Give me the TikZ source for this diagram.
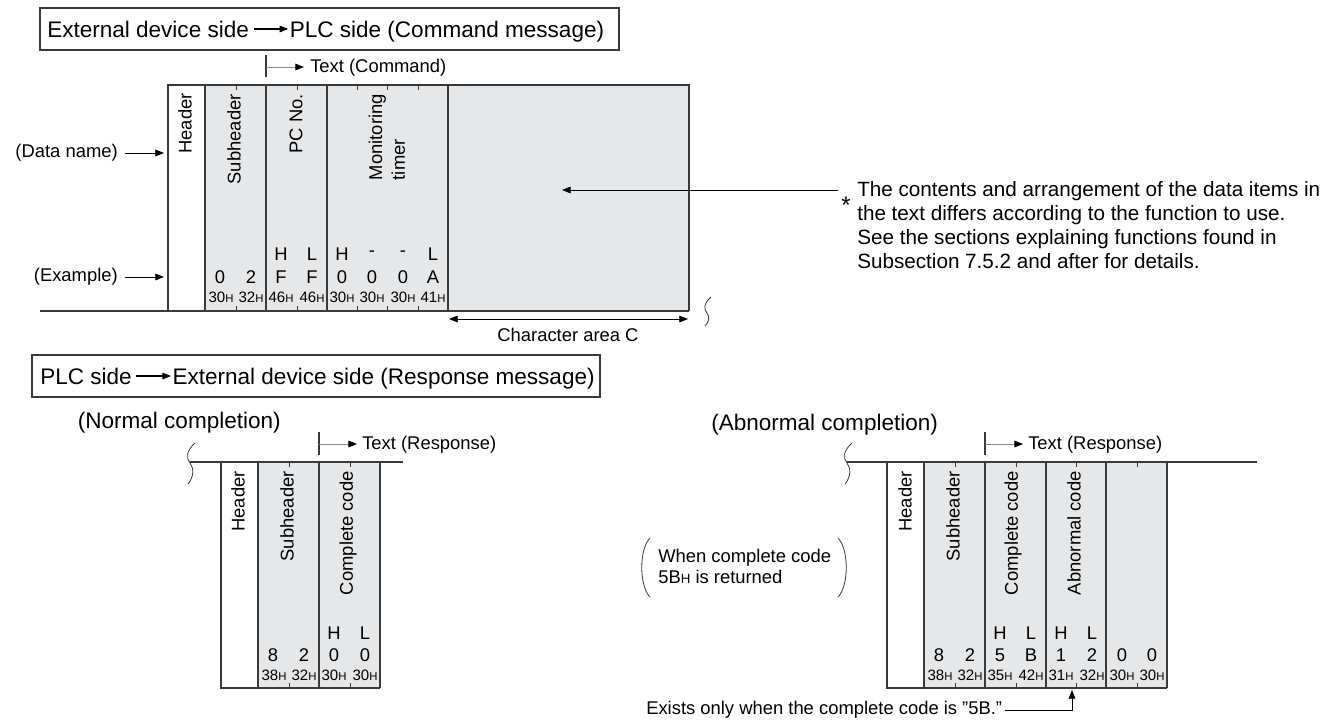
\documentclass[tikz,border=0pt]{standalone}
\usepackage{fontspec}
\usepackage{graphicx}
\setmainfont{Liberation Sans}
\usetikzlibrary{arrows.meta}
\definecolor{cellgray}{HTML}{E6E7E8}
\definecolor{linegray}{HTML}{3A3A3A}
\definecolor{stemgray}{HTML}{8A8A8A}
\newcommand{\hexv}[1]{{\fontsize{11.3}{12}\selectfont #1\fontsize{8.5}{9}\selectfont H}}
\begin{document}
\begin{tikzpicture}[x=0.75pt,y=-0.75pt,
  lbl/.style={inner sep=0pt, font=\fontsize{13.8}{16.5}\selectfont},
  ttl/.style={inner sep=0pt, font=\fontsize{16.9}{20}\selectfont},
  note/.style={inner sep=0pt, font=\fontsize{15.5}{18}\selectfont, align=left},
  vtxt/.style={rotate=90, anchor=east, inner sep=0pt, font=\fontsize{13.8}{17}\selectfont, align=left},
  hexl/.style={inner sep=0pt},
  frame/.style={draw=linegray, line width=0.9pt},
  tick/.style={draw=linegray, line width=0.6pt},
  arr/.style={-{Triangle[length=6.5pt,width=5pt]}, line width=0.6pt, draw=black},
  garr/.style={-{Triangle[length=6.5pt,width=5pt,color=black]}, line width=0.7pt, draw=stemgray},
  darr/.style={{Triangle[length=6.5pt,width=5pt]}-{Triangle[length=6.5pt,width=5pt]}, line width=0.6pt},
  wave/.style={draw=linegray, line width=0.6pt},
]
\useasboundingbox (0,0) rectangle (1332,719);
\fill[white] (0,0) rectangle (1332,719);

% ---------- Title 1 ----------
\draw[frame] (40,8) rectangle (619,50);
\node[ttl, anchor=base west] (t1a) at (47,37) {External device side};
\path (t1a.base east) ++(5,-8) coordinate (t1s) ++(34,0) coordinate (t1e);
\draw[arr, line width=0.8pt] (t1s) -- (t1e);
\node[ttl, anchor=base west] (t1b) at ([xshift=1pt,yshift=-6pt]t1e) {PLC side (Command message)};

% ---------- Text (Command) ----------
\coordinate (tcT) at (266,55);
\coordinate (tcB) at (266,77);
\draw[tick, line width=0.8pt] (tcT) -- (tcB);
\coordinate (tcS) at (266,67);
\coordinate (tcE) at (304,67);
\draw[garr] (tcS) -- (tcE);
\node[lbl, anchor=west] (tcmd) at (310,68) {Text (Command)};

% ---------- Top frame ----------
\fill[cellgray] (205,85) rectangle (689,311);
\draw[frame] (168,311) -- (168,85) -- (689,85) -- (689,311);
\draw[frame] (40,311) -- (689,311);
\foreach \x in {205,266,327,448} \draw[frame] (\x,85) -- (\x,311);
\foreach \x in {236,297,357,387,418} {\draw[tick] (\x,85) -- (\x,90); \draw[tick] (\x,306) -- (\x,311);}
\draw[wave] (711,297) .. controls (703,304) and (704,310) .. (707,313) .. controls (710,317) and (709,322) .. (705,326);

\node[vtxt] (hd1) at (185,93) {Header};
\node[vtxt] (sh1) at (234,94) {Subheader};
\node[vtxt] (pc1) at (296,94) {PC No.};
\node[vtxt] (mt1) at (387,94) {Monitoring\\timer};

\foreach \x/\t [count=\i] in {281/H,312/L,342/H,372/-,403/-,433/L}
  \node[lbl] (th\i) at (\x,254) {\t};
\foreach \x/\t [count=\i] in {220/0,251/2,281/F,312/F,342/0,372/0,403/0,433/A}
  \node[lbl] (tv\i) at (\x,277) {\t};
\foreach \x/\t [count=\i] in {221/30,251/32,281/46,312/46,342/30,372/30,403/30,433/41}
  \node[hexl] (tx\i) at (\x,297) {\hexv{\t}};

\node[lbl, anchor=east] (dname) at (118,153) {(Data name)};
\coordinate (dnT) at (164,153);
\draw[arr] ([xshift=5pt]dname.east) -- (dnT);
\node[lbl, anchor=east] (exmp) at (118,277) {(Example)};
\coordinate (exT) at (164,277);
\draw[arr] ([xshift=5pt]exmp.east) -- (exT);

\coordinate (caL) at (449,319);
\coordinate (caR) at (688,319);
\draw[darr] (caL) -- (caR);
\node[lbl] (carea) at (568,335) {Character area C};

% annotation
\coordinate (anS) at (838,190);
\coordinate (anT) at (562,190);
\draw[arr] (anS) -- (anT);
\node[inner sep=0pt, font=\fontsize{18}{18}\selectfont] (star) at (846,205) {*};
\node[note, anchor=north west] (antext) at (857,181) {The contents and arrangement of the data items in\\the text differs according to the function to use.\\See the sections explaining functions found in\\Subsection 7.5.2 and after for details.};

% ---------- Title 2 ----------
\draw[frame] (32,355) rectangle (600,397);
\node[ttl, anchor=base west] (t2a) at (40,384) {PLC side};
\path (t2a.base east) ++(4,-8) coordinate (t2s) ++(35,0) coordinate (t2e);
\draw[arr, line width=0.8pt] (t2s) -- (t2e);
\node[ttl, anchor=base west] (t2b) at ([xshift=1pt,yshift=-6pt]t2e) {External device side (Response message)};

% ---------- Normal completion ----------
\node[ttl, anchor=east] (normal) at (281,423) {(Normal completion)};
\draw[tick, line width=0.8pt] (319,432) -- (319,455);
\coordinate (nrS) at (319,444);
\coordinate (nrE) at (357,444);
\draw[garr] (nrS) -- (nrE);
\node[lbl, anchor=west] (nresp) at (362,445) {Text (Response)};

\fill[cellgray] (258,462) rectangle (380,688);
\draw[frame] (190,462) -- (403,462);
\draw[frame] (221,462) -- (221,688) -- (380,688);
\foreach \x in {258,319,380} \draw[frame] (\x,462) -- (\x,688);
\foreach \x in {289,350} {\draw[tick] (\x,462) -- (\x,467); \draw[tick] (\x,683) -- (\x,688);}
\draw[wave] (195,443) .. controls (186,451) and (186,458) .. (190,463) .. controls (194,468) and (194,477) .. (188,484);

\node[vtxt] (hd2) at (238,471) {Header};
\node[vtxt] (sh2) at (287,471) {Subheader};
\node[vtxt] (cc2) at (348,471) {Complete code};
\foreach \x/\t [count=\i] in {334/H,365/L}
  \node[lbl] (nh\i) at (\x,633) {\t};
\foreach \x/\t [count=\i] in {273/8,304/2,334/0,365/0}
  \node[lbl] (nv\i) at (\x,655) {\t};
\foreach \x/\t [count=\i] in {274/38,304/32,334/30,365/30}
  \node[hexl] (nx\i) at (\x,675) {\hexv{\t}};

% ---------- Abnormal completion ----------
\node[ttl, anchor=west] (abn) at (711,425) {(Abnormal completion)};
\draw[tick, line width=0.8pt] (985,432) -- (985,455);
\coordinate (arS) at (985,444);
\coordinate (arE) at (1023,444);
\draw[garr] (arS) -- (arE);
\node[lbl, anchor=west] (aresp) at (1028,445) {Text (Response)};

\fill[cellgray] (924,462) rectangle (1167,688);
\draw[frame] (847,462) -- (1257,462);
\draw[frame] (887,462) -- (887,688) -- (1167,688);
\foreach \x in {924,985,1046,1106,1167} \draw[frame] (\x,462) -- (\x,688);
\foreach \x in {955,1016,1076,1137} {\draw[tick] (\x,462) -- (\x,467); \draw[tick] (\x,683) -- (\x,688);}
\draw[wave] (852,443) .. controls (843,451) and (843,458) .. (847,463) .. controls (851,468) and (851,477) .. (845,484);

\node[vtxt] (hd3) at (905,471) {Header};
\node[vtxt] (sh3) at (953,471) {Subheader};
\node[vtxt] (cc3) at (1013,471) {Complete code};
\node[vtxt] (ac3) at (1074,471) {Abnormal code};
\foreach \x/\t [count=\i] in {1000/H,1031/L,1061/H,1092/L}
  \node[lbl] (ah\i) at (\x,633) {\t};
\foreach \x/\t [count=\i] in {939/8,970/2,1000/5,1031/B,1061/1,1092/2,1122/0,1152/0}
  \node[lbl] (av\i) at (\x,655) {\t};
\foreach \x/\t [count=\i] in {940/38,970/32,1000/35,1031/42,1061/31,1092/32,1122/30,1152/30}
  \node[hexl] (ax\i) at (\x,675) {\hexv{\t}};

% bracket note
\draw[wave] (650,538) .. controls (639,549) and (639,586) .. (650,597);
\draw[wave] (838,538) .. controls (849,549) and (849,586) .. (838,597);
\node[lbl, anchor=north west, align=left, font=\fontsize{13.8}{15.8}\selectfont] (bnote) at (658,549) {When complete code\\5B{\fontsize{10}{12}\selectfont H} is returned};

% exists note
\node[lbl, anchor=west] (exists) at (646,710) {Exists only when the complete code is \symbol{34}5B.\symbol{34}};
\coordinate (exC) at (1072,710);
\coordinate (exT2) at (1072,690);
\draw[arr] ([xshift=2pt]exists.east) -- (exC) -- (exT2);
\end{tikzpicture}
\end{document}
